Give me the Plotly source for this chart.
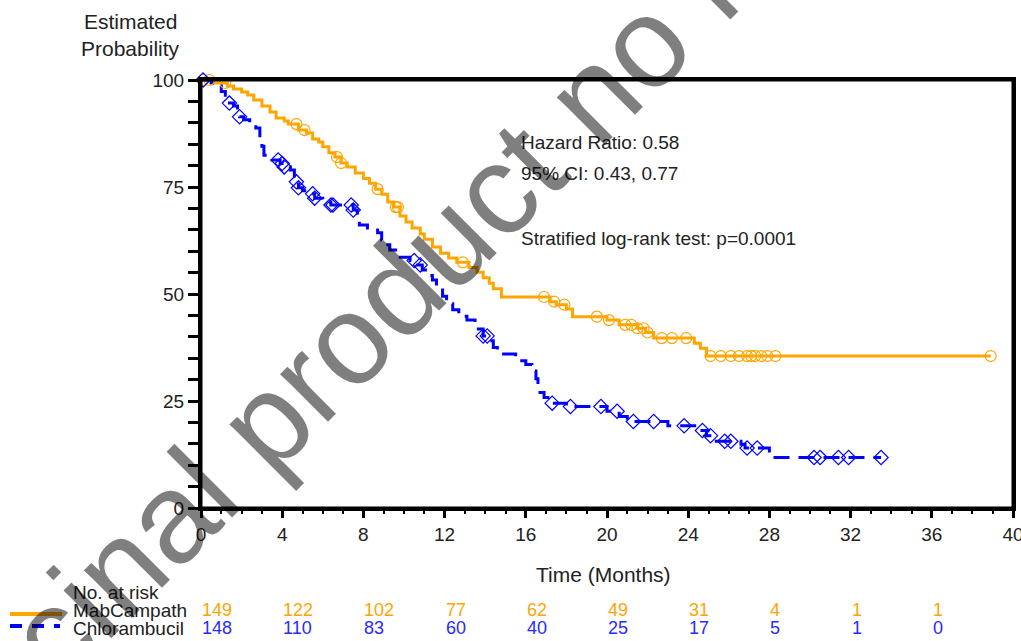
import plotly.graph_objects as go
import numpy as np

# ---------------- data ----------------
mab_step_t = [0, 0.6, 1.3, 1.6, 2.0, 2.3, 2.6, 3.0, 3.4, 3.7, 4.1, 4.3, 4.8, 5.2, 5.5, 5.8, 6.0, 6.3,
              6.6, 6.9, 7.2, 7.6, 8.0, 8.3, 8.6, 8.9, 9.2, 9.5, 9.8, 10.1, 10.4, 10.8, 11.0, 11.4,
              11.8, 12.2, 12.6, 13.2, 13.6, 13.9, 14.2, 14.4, 14.8, 17.2, 17.5, 18.0, 18.3, 20.0,
              20.6, 21.5, 21.9, 22.3, 24.3, 24.6, 24.9]
mab_step_s = [100, 99.3, 98.6, 97.9, 97.2, 96.5, 95.3, 93.9, 92.5, 91.1, 90.4, 89.7, 88.3, 87.6, 86.2,
              85.5, 84.4, 83.0, 82.0, 80.6, 79.7, 78.3, 77.0, 75.9, 74.5, 73.3, 71.5, 70.3, 68.2,
              66.8, 65.4, 64.0, 62.8, 61.0, 59.5, 58.4, 57.4, 56.2, 55.1, 53.8, 52.5, 51.2, 49.3,
              48.2, 47.5, 46.5, 44.7, 43.9, 42.8, 42.0, 41.0, 39.7, 38.5, 37.3, 35.5]
mab_censor_t = [0.1, 0.4, 1.2, 4.7, 5.1, 6.7, 6.9, 8.7, 9.6, 9.7, 12.9, 16.9, 17.4, 17.9, 19.5, 20.1,
                20.9, 21.2, 21.5, 21.8, 22.0, 22.7, 23.2, 23.9, 25.1, 25.6, 26.1, 26.5, 26.9, 27.1,
                27.3, 27.6, 27.9, 28.3, 38.9]

chl_step_t = [0, 0.5, 0.8, 1.0, 1.2, 1.4, 1.6, 1.8, 1.9, 2.1, 2.4, 2.7, 2.9, 3.0, 3.1, 3.5, 3.9, 4.1,
              4.4, 4.6, 4.7, 4.8, 5.0, 5.3, 5.6, 6.0, 6.4, 7.5, 7.7, 7.8, 8.2, 8.7, 8.9, 9.1, 9.3,
              9.7, 10.3, 10.6, 10.9, 11.2, 11.4, 11.6, 11.9, 12.1, 12.4, 12.7, 13.1, 13.5, 13.9,
              14.2, 14.4, 14.6, 15.5, 15.7, 16.0, 16.3, 16.5, 16.6, 16.7, 16.9, 17.2, 18.0, 20.0,
              20.6, 21.0, 23.0, 24.6, 24.9, 25.2, 26.6, 26.8, 28.0]
chl_step_s = [100, 99.3, 98.6, 97.3, 95.9, 94.6, 93.9, 92.5, 91.4, 90.7, 89.8, 88.8, 86.0, 84.5, 82.4,
              81.3, 80.5, 79.7, 79.0, 77.5, 76.2, 74.8, 74.1, 73.4, 72.4, 71.5, 70.8, 69.6, 67.8,
              66.1, 65.4, 64.3, 62.6, 61.5, 60.3, 58.6, 57.8, 56.8, 55.6, 54.3, 53.3, 51.4, 49.5,
              47.7, 46.3, 44.8, 43.9, 41.8, 40.2, 39.1, 37.5, 36.0, 35.2, 34.4, 33.5, 32.0, 30.2,
              28.8, 27.0, 25.8, 24.5, 23.7, 22.6, 21.4, 20.2, 19.2, 18.1, 16.9, 15.6, 14.9, 14.0, 11.8]
chl_censor_t = [0.1, 1.4, 1.9, 3.8, 4.0, 4.1, 4.7, 4.8, 5.5, 5.6, 6.4, 6.5, 7.4, 7.5, 10.5, 10.8,
                13.9, 14.1, 17.3, 18.2, 19.7, 20.5, 21.3, 22.3, 23.8, 24.7, 25.1, 25.8, 26.1, 26.9,
                27.4, 30.2, 30.5, 31.4, 31.9, 33.5]

risk_times = [0, 4, 8, 12, 16, 20, 24, 28, 32, 36]
risk_mab = [149, 122, 102, 77, 62, 49, 31, 4, 1, 1]
risk_chl = [148, 110, 83, 60, 40, 25, 17, 5, 1, 0]

arm_names = ["MabCampath", "Chlorambucil"]
x_ticks = [0, 4, 8, 12, 16, 20, 24, 28, 32, 36, 40]
y_ticks = [0, 25, 50, 75, 100]

stats_text = ["Hazard Ratio: 0.58", "95% CI: 0.43, 0.77", "Stratified log-rank test: p=0.0001"]

ORANGE = "#FFA500"
BLUE = "#0000FF"
TXT = "#222222"
FONT = "Liberation Sans"
BLUE_DASH = "16px,9px"


def km_value(step_t, step_s, t):
    idx = np.searchsorted(np.array(step_t), t, side="right") - 1
    return float(np.array(step_s)[idx])


def extend(step_t, step_s, last_t):
    xs = list(step_t) + [last_t]
    ys = list(step_s) + [step_s[-1]]
    return xs, ys


# figure fills the window (body margin removed by post_script)
W, H = 1021, 641
SX0, SX1, SY0, SY1 = 201, 1013, 80, 508
L, T = SX0, SY0
R, B = W - SX1, H - SY1
PW, PH = SX1 - SX0, SY1 - SY0


def px(xs):
    return (xs - SX0) / PW


def py(ys):
    return (SY1 - ys) / PH


fig = go.Figure()

mx, my = extend(mab_step_t, mab_step_s, max(mab_censor_t))
cx, cy = extend(chl_step_t, chl_step_s, max(chl_censor_t))

fig.add_trace(go.Scatter(x=mx, y=my, mode="lines", line=dict(color=ORANGE, width=3, shape="hv"),
                         showlegend=False, hoverinfo="skip"))
fig.add_trace(go.Scatter(x=cx, y=cy, mode="lines",
                         line=dict(color=BLUE, width=3, shape="hv", dash=BLUE_DASH),
                         showlegend=False, hoverinfo="skip"))
fig.add_trace(go.Scatter(x=mab_censor_t, y=[km_value(mab_step_t, mab_step_s, t) for t in mab_censor_t],
                         mode="markers",
                         marker=dict(symbol="circle-open", size=11, color=ORANGE, line=dict(width=1.2)),
                         showlegend=False, cliponaxis=False))
fig.add_trace(go.Scatter(x=chl_censor_t, y=[km_value(chl_step_t, chl_step_s, t) for t in chl_censor_t],
                         mode="markers",
                         marker=dict(symbol="diamond-open", size=11, color=BLUE, line=dict(width=1.2)),
                         showlegend=False, cliponaxis=False))

ann = []
for txt, yy in zip(stats_text, [142, 173, 238]):
    ann.append(dict(xref="paper", yref="paper", x=px(519), y=py(yy), text=txt, showarrow=False,
                    xanchor="left", yanchor="middle", font=dict(family=FONT, size=19, color=TXT)))
for txt, yy in zip(["Estimated", "Probability"], [22, 48]):
    ann.append(dict(xref="paper", yref="paper", x=px(130), y=py(yy), text=txt, showarrow=False,
                    xanchor="center", yanchor="middle", font=dict(family=FONT, size=21, color=TXT)))
ann.append(dict(xref="paper", yref="paper", x=px(603), y=py(574), text="Time (Months)", showarrow=False,
                xanchor="center", yanchor="middle", font=dict(family=FONT, size=21, color=TXT)))
ann.append(dict(xref="paper", yref="paper", x=px(71), y=py(592), text="No. at risk", showarrow=False,
                xanchor="left", yanchor="middle", font=dict(family=FONT, size=19, color=TXT)))
for name, yy in zip(arm_names, [610, 628]):
    ann.append(dict(xref="paper", yref="paper", x=px(71), y=py(yy), text=name, showarrow=False,
                    xanchor="left", yanchor="middle", font=dict(family=FONT, size=19, color=TXT)))
for t, a, b in zip(risk_times, risk_mab, risk_chl):
    ann.append(dict(xref="x", yref="paper", x=t, y=py(610), text=str(a), showarrow=False, xshift=-1,
                    xanchor="left", yanchor="middle", font=dict(family=FONT, size=18, color=ORANGE)))
    ann.append(dict(xref="x", yref="paper", x=t, y=py(628), text=str(b), showarrow=False, xshift=-1,
                    xanchor="left", yanchor="middle", font=dict(family=FONT, size=18, color="#2a2aff")))
# watermark
ann.append(dict(xref="paper", yref="paper", x=px(612), y=py(74),
                text="Medicinal product no longer authorised", showarrow=False, textangle=-45,
                xanchor="center", yanchor="middle",
                font=dict(family=FONT, size=128, color="rgba(0,0,0,0.5)")))

shapes = [
    dict(type="rect", xref="paper", yref="paper", x0=0, x1=1, y0=0, y1=1,
         line=dict(color="black", width=3), layer="above"),
    dict(type="line", xref="paper", yref="paper", x0=px(10), x1=px(62), y0=py(614), y1=py(614),
         line=dict(color=ORANGE, width=4)),
    dict(type="line", xref="paper", yref="paper", x0=px(10), x1=px(60), y0=py(626), y1=py(626),
         line=dict(color=BLUE, width=4, dash="12px,10px")),
]

fig.update_layout(
    width=W, height=H, margin=dict(l=L, r=R, t=T, b=B, autoexpand=False),
    paper_bgcolor="white", plot_bgcolor="white",
    annotations=ann, shapes=shapes, showlegend=False,
    font=dict(family=FONT, size=19, color=TXT),
)
fig.update_xaxes(range=[0, 40], tickvals=x_ticks, ticks="outside", ticklen=7, tickwidth=3, tickcolor="black",
                 showline=True, linecolor="black", linewidth=3, mirror=True, showgrid=False, zeroline=False,
                 ticklabeloverflow="allow",
                 tickfont=dict(family=FONT, size=19, color=TXT),
                 minor=dict(dtick=1, tick0=0, ticks="outside", ticklen=3, tickwidth=2, tickcolor="black"))
fig.update_yaxes(range=[0, 100], tickvals=y_ticks, ticks="outside", ticklen=5, tickwidth=3, tickcolor="black",
                 showline=True, linecolor="black", linewidth=3, mirror=True, showgrid=False, zeroline=False,
                 ticklabelstandoff=5,
                 tickfont=dict(family=FONT, size=19, color=TXT),
                 minor=dict(dtick=5, tick0=0, ticks="outside", ticklen=10, tickwidth=3, tickcolor="black"))

fig.write_html("out.html", config={"displayModeBar": False},
               post_script="document.body.style.margin='0px';document.body.style.overflow='hidden';")
